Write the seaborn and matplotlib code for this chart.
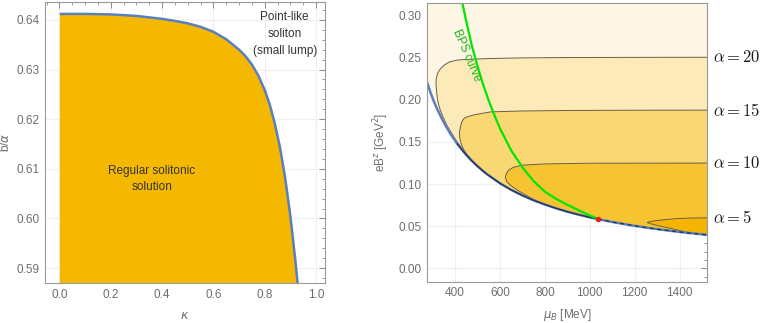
import numpy as np
import matplotlib
matplotlib.use("Agg")
import matplotlib.pyplot as plt
import seaborn as sns
from matplotlib.ticker import MultipleLocator, FormatStrFormatter

# left panel: boundary of the regular solitonic region
kappa = [0.0, 0.005, 0.1, 0.2, 0.3, 0.4, 0.45, 0.5, 0.55, 0.6, 0.65, 0.7, 0.725, 0.75,
         0.775, 0.8, 0.82, 0.84, 0.86, 0.88, 0.9, 0.92, 0.94]
b_alpha = [0.6412, 0.6412, 0.6412, 0.6411, 0.6408, 0.6402, 0.6398, 0.6393, 0.6386, 0.6376,
           0.6361, 0.6340, 0.6327, 0.6310, 0.6288, 0.6259, 0.6229, 0.6190, 0.6142, 0.6081,
           0.6005, 0.5913, 0.5809]

# right panel: lower boundary curve eB(mu_B)
mu_edge = [275, 290, 305, 320, 340, 360, 383, 410, 442, 470, 500, 540, 600, 650, 700, 750,
           800, 850, 900, 950, 1000, 1037, 1100, 1200, 1300, 1400, 1450, 1523]
eb_edge = [0.2210, 0.2090, 0.1985, 0.1893, 0.1782, 0.1683, 0.1582, 0.1478, 0.1371, 0.1289,
           0.1212, 0.1122, 0.1010, 0.0932, 0.0866, 0.0808, 0.0758, 0.0713, 0.0673, 0.0638,
           0.0606, 0.0585, 0.0551, 0.0505, 0.0466, 0.0433, 0.0418, 0.0398]

# contour outlines (top edge + rounded left cap, ending on the boundary curve)
mu_a20 = [1523, 1200, 900, 700, 550, 470, 412, 375, 352, 335, 322, 316, 315, 318, 322, 332,
          345, 362, 383, 405, 428, 450, 462]
eb_a20 = [0.2505, 0.2504, 0.2502, 0.2498, 0.2490, 0.2482, 0.2473, 0.2450, 0.2413, 0.2370,
          0.2314, 0.2250, 0.2195, 0.2090, 0.1996, 0.1895, 0.1805, 0.1705, 0.1610, 0.1518,
          0.1430, 0.1360, 0.1315]
mu_a15 = [1523, 1200, 900, 700, 560, 484, 455, 440, 430, 424, 420, 420, 425, 432, 442, 455,
          470, 490, 505]
eb_a15 = [0.1878, 0.1877, 0.1874, 0.1868, 0.1858, 0.1822, 0.1800, 0.1780, 0.1740, 0.1680,
          0.1620, 0.1560, 0.1500, 0.1445, 0.1395, 0.1345, 0.1300, 0.1245, 0.1202]
mu_a10 = [1523, 1200, 1000, 800, 700, 660, 640, 628, 624, 630, 645, 656, 680, 710, 740, 765, 790]
eb_a10 = [0.1250, 0.1249, 0.1248, 0.1240, 0.1225, 0.1200, 0.1170, 0.1124, 0.1080, 0.1030,
          0.0990, 0.0968, 0.0925, 0.0878, 0.0833, 0.0798, 0.0769]
mu_a5 = [1523, 1450, 1380, 1330, 1290, 1265, 1256, 1270, 1300, 1330, 1358, 1390, 1420, 1450]
eb_a5 = [0.0600, 0.0598, 0.0590, 0.0578, 0.0565, 0.0554, 0.0546, 0.0530, 0.0510, 0.0492,
         0.0476, 0.0455, 0.0437, 0.0421]

alpha_labels = [r"$\alpha = 20$", r"$\alpha = 15$", r"$\alpha = 10$", r"$\alpha = 5$"]
alpha_levels = [0.2505, 0.1878, 0.1250, 0.0600]

# BPS curve
mu_bps = [430, 450, 475, 500, 525, 550, 575, 600, 650, 700, 750, 800, 850, 900, 950, 1000, 1037]
eb_bps = [0.3180, 0.2930, 0.2640, 0.2400, 0.2180, 0.1990, 0.1820, 0.1660, 0.1400, 0.1200,
          0.1035, 0.0910, 0.0825, 0.0755, 0.0690, 0.0628, 0.0588]
bps_point = (1037, 0.0588)

sns.set_theme(style="whitegrid", rc={
    "grid.color": "#e3e3e3", "grid.linewidth": 0.8,
    "axes.edgecolor": "#9a9a9a", "axes.linewidth": 0.8,
    "xtick.direction": "in", "ytick.direction": "in",
    "xtick.color": "#8a8a8a", "ytick.color": "#8a8a8a",
    "xtick.labelcolor": "#6e6e6e", "ytick.labelcolor": "#6e6e6e",
    "xtick.major.size": 4, "ytick.major.size": 4,
    "xtick.minor.size": 2.2, "ytick.minor.size": 2.2,
    "xtick.major.width": 0.7, "ytick.major.width": 0.7,
    "xtick.minor.width": 0.6, "ytick.minor.width": 0.6,
    "xtick.top": True, "ytick.right": True,
})
plt.rcParams['font.family'] = ['Liberation Sans', 'DejaVu Sans']

fig = plt.figure(figsize=(7.63, 3.23), dpi=100)
ax1 = fig.add_axes([45 / 763, 40 / 323, 280 / 763, 281 / 323])
ax2 = fig.add_axes([427 / 763, 41.5 / 323, 280 / 763, 279 / 323])

# ---- left panel
ax1.set_xlim(-0.056, 1.035)
ax1.set_ylim(0.587, 0.6436)
ax1.fill_between(kappa, 0.587, b_alpha, color="#f5b800", lw=0, zorder=2)
sns.lineplot(x=kappa[1:], y=b_alpha[1:], ax=ax1, color="#5a7fbf", lw=1.8,
             sort=False, estimator=None, zorder=3)
ax1.text(0.36, 0.6079, "Regular solitonic\nsolution", ha="center", va="center",
         fontsize=8.5, color="#333333", linespacing=1.5, zorder=4)
ax1.text(0.878, 0.6371, "Point-like\nsoliton\n(small lump)", ha="center", va="center",
         fontsize=8.5, color="#333333", linespacing=1.55, zorder=4)
ax1.set_xticks([0.0, 0.2, 0.4, 0.6, 0.8, 1.0])
ax1.set_yticks([0.59, 0.60, 0.61, 0.62, 0.63, 0.64])
ax1.xaxis.set_major_formatter(FormatStrFormatter("%.1f"))
ax1.yaxis.set_major_formatter(FormatStrFormatter("%.2f"))
ax1.xaxis.set_minor_locator(MultipleLocator(0.05))
ax1.yaxis.set_minor_locator(MultipleLocator(0.002))
ax1.set_xlabel(r"$\kappa$", color="#6e6e6e", fontsize=9)
ax1.set_ylabel(r"b/$\alpha$", color="#6e6e6e", fontsize=8.5)
ax1.xaxis.set_label_coords(0.5, -0.095)
ax1.yaxis.set_label_coords(-0.118, 0.5)

# ---- right panel
ax2.set_xlim(275, 1522)
ax2.set_ylim(-0.0155, 0.3155)
mu_e = np.array(mu_edge)
eb_e = np.array(eb_edge)
ax2.fill_between(mu_e, eb_e, 0.3155, color="#fdf6e4", lw=0, zorder=1)

shades = ["#fcebb9", "#f9d772", "#f7c431", "#f4b400"]
outlines = [(mu_a20, eb_a20), (mu_a15, eb_a15), (mu_a10, eb_a10), (mu_a5, eb_a5)]
for (mx, ey), col in zip(outlines, shades):
    keep = mu_e > mx[-1]
    px = np.concatenate([mx, mu_e[keep]])
    py = np.concatenate([ey, eb_e[keep]])
    ax2.fill(px, py, color=col, lw=0, zorder=2)
    ax2.plot(mx, ey, color="#6b6048", lw=0.7, zorder=3)

sns.lineplot(x=mu_edge, y=eb_edge, ax=ax2, color="#5a7fbf", lw=1.8,
             sort=False, estimator=None, zorder=4)
solid = (mu_e >= 410) & (mu_e <= 1037)
ax2.plot(mu_e[solid], eb_e[solid], color="#243049", lw=0.9, zorder=5)
dash = mu_e >= 1037
ax2.plot(mu_e[dash], eb_e[dash], color="#243049", lw=0.9, ls=(0, (3, 3)), zorder=5)

sns.lineplot(x=mu_bps, y=eb_bps, ax=ax2, color="#00e600", lw=1.6,
             sort=False, estimator=None, zorder=6)
ax2.plot(*bps_point, "o", color="#e8231e", ms=3, zorder=7)
ax2.text(453, 0.2525, "BPS curve", rotation=-67, color="#22b522", fontsize=8.5,
         ha="center", va="center", rotation_mode="anchor", zorder=7)

for lab, lev in zip(alpha_labels, alpha_levels):
    ax2.text(1.02, lev, lab, transform=ax2.get_yaxis_transform(), fontsize=12,
             math_fontfamily="cm", color="#1a1a1a", ha="left", va="center")

ax2.set_xticks([400, 600, 800, 1000, 1200, 1400])
ax2.set_yticks([0.0, 0.05, 0.10, 0.15, 0.20, 0.25, 0.30])
ax2.yaxis.set_major_formatter(FormatStrFormatter("%.2f"))
ax2.xaxis.set_minor_locator(MultipleLocator(50))
ax2.yaxis.set_minor_locator(MultipleLocator(0.01))
ax2.set_xlabel(r"$\mu_B$ [MeV]", color="#6e6e6e", fontsize=8.5)
ax2.set_ylabel(r"eB$^z$ [GeV$^2$]", color="#6e6e6e", fontsize=8.5)
ax2.xaxis.set_label_coords(0.5, -0.09)
ax2.yaxis.set_label_coords(-0.129, 0.5)

for ax in (ax1, ax2):
    ax.tick_params(which="both", labelsize=8.5, pad=4)
    ax.grid(True, which="major")
    ax.grid(False, which="minor")
    for s in ax.spines.values():
        s.set_zorder(10)
    # grid drawn over the fills, faintly
    for gl in ax.get_xgridlines() + ax.get_ygridlines():
        gl.set_zorder(2.5)
        gl.set_alpha(0.55)

fig.savefig("out.png", dpi=100)
